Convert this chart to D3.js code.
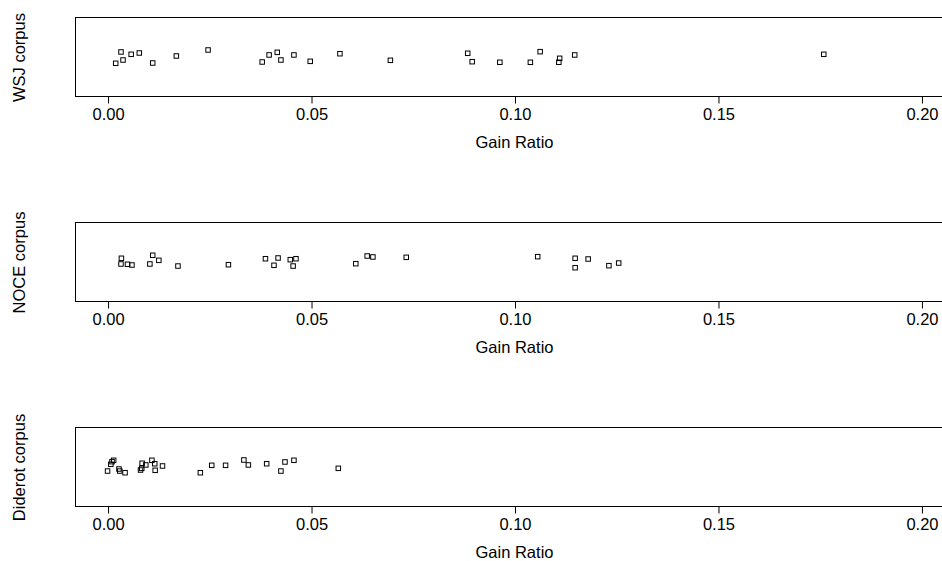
<!DOCTYPE html>
<html>
<head>
<meta charset="utf-8">
<script src="https://cdn.jsdelivr.net/npm/d3@7"></script>
<style>
  html, body { margin: 0; padding: 0; background: #fff; }
  svg { display: block; }
  text { font-family: "Liberation Sans", Arial, Helvetica, sans-serif; fill: #000; }
</style>
</head>
<body>
<svg id="chart" width="942" height="561"></svg>
<script>
// Gain ratio of each feature, per corpus
const corpora = ["WSJ corpus", "NOCE corpus", "Diderot corpus"];

const wsjGain = [0.0020, 0.0033, 0.0038, 0.0058, 0.0078, 0.0111, 0.0169, 0.0247,
  0.0380, 0.0397, 0.0417, 0.0426, 0.0458, 0.0498, 0.0571, 0.0695, 0.0885, 0.0896,
  0.0964, 0.1039, 0.1063, 0.1111, 0.1109, 0.1148, 0.1760];
const wsjJitter = [0.907, 1.062, 0.952, 1.030, 1.048, 0.911, 1.007, 1.089,
  0.925, 1.021, 1.057, 0.952, 1.021, 0.934, 1.038, 0.948, 1.044, 0.929,
  0.921, 0.921, 1.066, 0.975, 0.921, 1.021, 1.030];

const noceGain = [0.0034, 0.0033, 0.0049, 0.0060, 0.0104, 0.0111, 0.0126, 0.0173,
  0.0297, 0.0388, 0.0409, 0.0419, 0.0449, 0.0463, 0.0456, 0.0610, 0.0638, 0.0652,
  0.0734, 0.1057, 0.1149, 0.1149, 0.1181, 0.1232, 0.1256];
const noceJitter = [1.044, 0.966, 0.962, 0.952, 0.966, 1.085, 1.016, 0.938,
  0.956, 1.038, 0.948, 1.048, 1.025, 1.038, 0.938, 0.970, 1.075, 1.062,
  1.057, 1.066, 1.044, 0.915, 1.034, 0.943, 0.979];

const diderotGain = [0.0000, 0.0008, 0.0011, 0.0015, 0.0028, 0.0030, 0.0043, 0.0081,
  0.0084, 0.0085, 0.0094, 0.0109, 0.0116, 0.0117, 0.0135, 0.0228, 0.0256, 0.0290,
  0.0335, 0.0346, 0.0391, 0.0426, 0.0436, 0.0458, 0.0567];
const diderotJitter = [0.938, 1.030, 1.066, 1.085, 0.966, 0.938, 0.915, 0.952,
  0.975, 1.044, 1.021, 1.085, 1.038, 0.948, 1.007, 0.915, 1.016, 1.016,
  1.089, 1.021, 1.038, 0.938, 1.062, 1.085, 0.975];

const xTicks = [0.00, 0.05, 0.10, 0.15, 0.20];
const xTitle = "Gain Ratio";

const panels = [
  { label: corpora[0], gain: wsjGain, jitter: wsjJitter },
  { label: corpora[1], gain: noceGain, jitter: noceJitter },
  { label: corpora[2], gain: diderotGain, jitter: diderotJitter }
];

const svg = d3.select("#chart");

// Plot region geometry (the box runs past the right edge of the page)
const boxLeft = 75, boxRight = 954, boxHeight = 79;
const panelTops = [17, 222, 427];

// Shared x range 0..0.2 padded by 4% on each side
const xDom = [0, 0.2];
const pad = (xDom[1] - xDom[0]) * 0.04;
const x = d3.scaleLinear().domain([xDom[0] - pad, xDom[1] + pad]).range([boxLeft, boxRight]);

const sq = 4.5;

panels.forEach((p, i) => {
  const top = panelTops[i];
  const bottom = top + boxHeight;
  // Single strip at 1, jitter band 0.5..1.5, padded by 4%
  const y = d3.scaleLinear().domain([0.46, 1.54]).range([bottom, top]);

  const g = svg.append("g");

  // Frame
  g.append("rect")
    .attr("x", boxLeft + 0.5).attr("y", top + 0.5)
    .attr("width", boxRight - boxLeft).attr("height", boxHeight)
    .attr("fill", "none").attr("stroke", "#000").attr("stroke-width", 1);

  // Bottom axis
  const axis = d3.axisBottom(x)
    .tickValues(xTicks)
    .tickFormat(d3.format(".2f"))
    .tickSizeOuter(0)
    .tickSizeInner(7);
  const ax = g.append("g")
    .attr("transform", `translate(0.5,${bottom + 0.5})`)
    .call(axis);
  ax.select(".domain").attr("d", `M${x(xTicks[0])},0H${x(xTicks[xTicks.length - 1])}`)
    .attr("stroke", "#000");
  ax.selectAll(".tick line").attr("stroke", "#000");
  ax.selectAll(".tick text")
    .attr("y", 23.5)
    .attr("dy", null)
    .attr("font-size", 16.5)
    .attr("font-family", "Liberation Sans, Arial, Helvetica, sans-serif")
    .attr("fill", "#000");

  // Axis title
  g.append("text")
    .attr("x", (x(xDom[0]) + x(xDom[1])) / 2)
    .attr("y", bottom + 52)
    .attr("text-anchor", "middle")
    .attr("font-size", 16.5)
    .text(xTitle);

  // Corpus label
  g.append("text")
    .attr("transform", `translate(25,${(top + bottom) / 2 + 1}) rotate(-90)`)
    .attr("text-anchor", "middle")
    .attr("font-size", 16.5)
    .text(p.label);

  // Points: open squares
  g.selectAll("rect.pt")
    .data(p.gain.map((v, k) => ({ v, j: p.jitter[k] })))
    .enter().append("rect")
    .attr("class", "pt")
    .attr("x", d => x(d.v) - sq / 2)
    .attr("y", d => y(d.j) - sq / 2)
    .attr("width", sq).attr("height", sq)
    .attr("fill", "none")
    .attr("stroke", "#000")
    .attr("stroke-width", 1);
});
</script>
</body>
</html>
